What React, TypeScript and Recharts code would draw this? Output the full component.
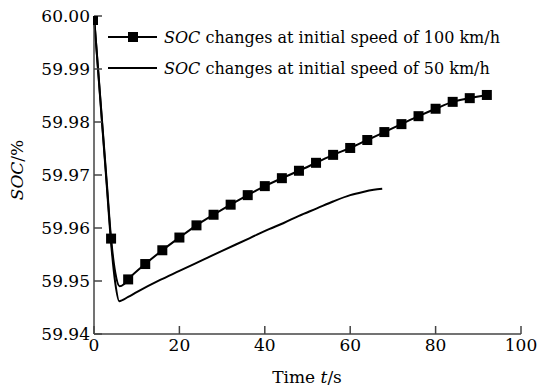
import React from "react";
import { LineChart, Line, XAxis, YAxis } from "recharts";

const xTicks = [0, 20, 40, 60, 80, 100];
const yTicks = [59.94, 59.95, 59.96, 59.97, 59.98, 59.99, 60.0];

// SOC at initial speed of 100 km/h (markers every 4 s)
const t100 = [0, 1, 2, 3, 4, 5, 6, 7, 8, 12, 16, 20, 24, 28, 32, 36, 40, 44, 48, 52, 56, 60, 64, 68, 72, 76, 80, 84, 88, 92];
const soc100 = [60.0, 59.9895, 59.979, 59.9685, 59.958, 59.9515, 59.949, 59.9494, 59.9503, 59.9532, 59.9558, 59.9582, 59.9605, 59.9625, 59.9644, 59.9662, 59.9679, 59.9694, 59.9708, 59.9723, 59.9738, 59.9751, 59.9766, 59.9781, 59.9796, 59.9811, 59.9825, 59.9838, 59.9845, 59.9851];

// SOC at initial speed of 50 km/h
const t50 = [0, 1, 2, 3, 4, 5, 5.9, 8, 10, 15.5, 20, 25, 30, 36.5, 41, 44.3, 48, 52.2, 56, 60, 63, 65.5, 67.5];
const soc50 = [60.0, 59.9893, 59.9786, 59.9679, 59.9572, 59.9495, 59.9462, 59.947, 59.9479, 59.9502, 59.9519, 59.9538, 59.9557, 59.9581, 59.9598, 59.9609, 59.9623, 59.9637, 59.965, 59.9662, 59.9668, 59.9672, 59.9674];

const data100 = t100.map((t, i) => ({ t, soc: soc100[i] }));
const data50 = t50.map((t, i) => ({ t, soc: soc50[i] }));

const legendLabels = ["changes at initial speed of 100 km/h", "changes at initial speed of 50 km/h"];

const FONT = "'DejaVu Serif', serif";
const FS = 17;
const LFS = 16;

const SquareDot = (props: any) => {
  const { cx, cy, payload, index } = props;
  if (payload.t % 4 !== 0) return <g key={`d${index}`} />;
  const s = 10;
  if (payload.t === 0) {
    return <rect key={`d${index}`} x={cx - 1} y={cy} width={5} height={9} fill="#000" />;
  }
  return <rect key={`d${index}`} x={cx - s / 2} y={cy - s / 2} width={s} height={s} fill="#000" />;
};

const LegendBox = () => (
  <svg width={430} height={60} style={{ position: "absolute", left: 108, top: 26, fontFamily: FONT }}>
    <line x1={0} y1={11} x2={49} y2={11} stroke="#000" strokeWidth={2} />
    <rect x={20} y={6} width={10} height={10} fill="#000" />
    <text x={56} y={17} fontSize={LFS} fill="#000" fontFamily={FONT}>
      <tspan fontStyle="italic">SOC</tspan> {legendLabels[0]}
    </text>
    <line x1={0} y1={42} x2={49} y2={42} stroke="#000" strokeWidth={2} />
    <text x={56} y={48} fontSize={LFS} fill="#000" fontFamily={FONT}>
      <tspan fontStyle="italic">SOC</tspan> {legendLabels[1]}
    </text>
  </svg>
);

const YLabel = () => (
  <text x={23} y={170} transform="rotate(-90 23 170)" textAnchor="middle" fontSize={FS} fontFamily={FONT} fill="#000">
    <tspan fontStyle="italic">SOC</tspan>/%
  </text>
);

const XLabel = () => (
  <text x={307} y={383} textAnchor="middle" fontSize={FS} fontFamily={FONT} fill="#000">
    Time <tspan fontStyle="italic">t</tspan>/s
  </text>
);

export default function App() {
  return (
    <div style={{ position: "absolute", left: 0, top: 0, width: 539, height: 389, background: "#fff", fontFamily: FONT }}>
      <LineChart width={539} height={389} margin={{ top: 16, right: 18, left: 0, bottom: 0 }} style={{ fontFamily: FONT }}>
        <XAxis
          type="number"
          dataKey="t"
          domain={[0, 100]}
          ticks={xTicks}
          tickSize={-8}
          tickMargin={13}
          height={55}
          stroke="#444"
          strokeWidth={1.5}
          tick={{ fill: "#000", fontSize: FS, fontFamily: FONT }}
          label={<XLabel />}
        />
        <YAxis
          type="number"
          domain={[59.94, 60.0]}
          ticks={yTicks}
          tickFormatter={(v: number) => v.toFixed(2)}
          tickSize={-8}
          tickMargin={12}
          width={94}
          stroke="#444"
          strokeWidth={1.5}
          tick={{ fill: "#000", fontSize: FS, fontFamily: FONT }}
          label={<YLabel />}
        />
        <Line
          data={data50}
          dataKey="soc"
          type="monotone"
          stroke="#000"
          strokeWidth={2}
          dot={false}
          isAnimationActive={false}
        />
        <Line
          data={data100}
          dataKey="soc"
          type="monotone"
          stroke="#000"
          strokeWidth={2}
          dot={<SquareDot />}
          isAnimationActive={false}
        />
      </LineChart>
      <LegendBox />
    </div>
  );
}
